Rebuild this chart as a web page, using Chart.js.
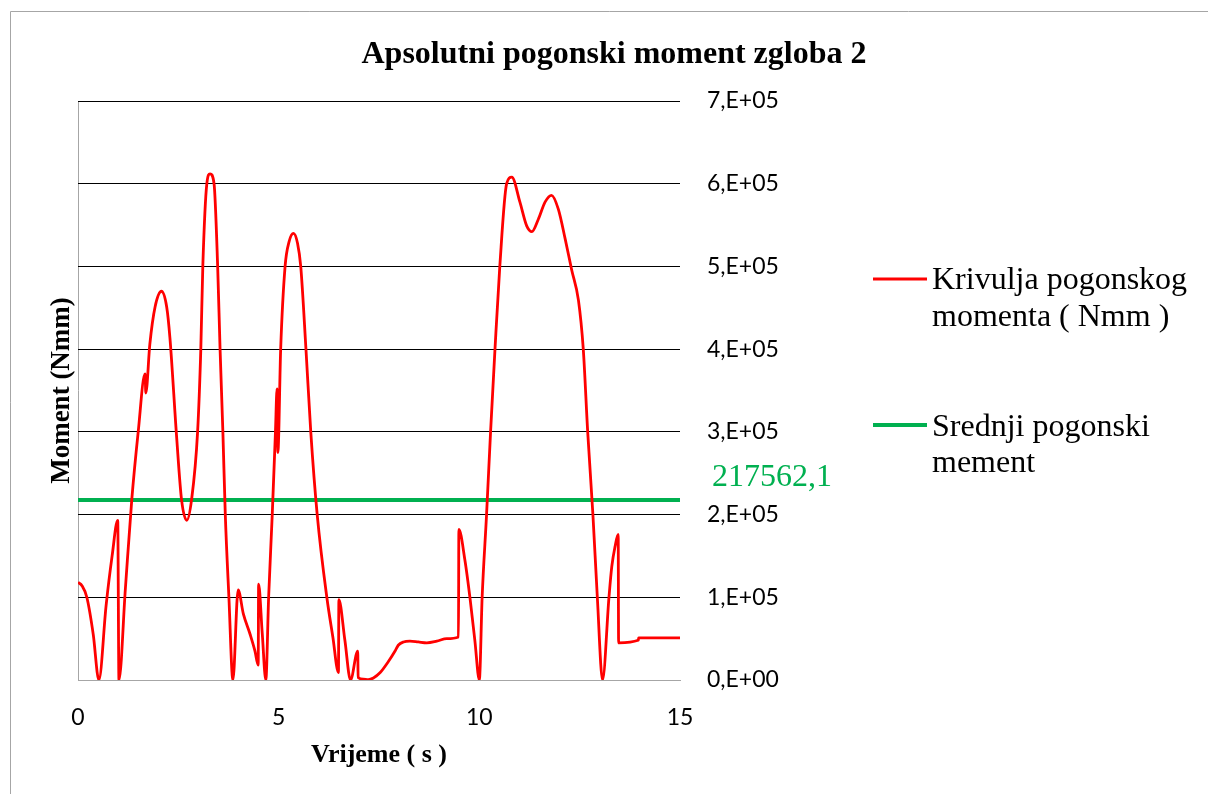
<!DOCTYPE html>
<html>
<head>
<meta charset="utf-8">
<script src="https://cdn.jsdelivr.net/npm/chart.js@4.4.1/dist/chart.umd.min.js"></script>
<style>
  html, body { margin: 0; padding: 0; background: #ffffff; }
  #okvir { width: 1208px; height: 794px; position: relative; }
</style>
</head>
<body>
<div id="okvir"><canvas id="grafikon" width="1208" height="794"></canvas></div>
<script>
// Naslovi i oznake
const naslov = 'Apsolutni pogonski moment zgloba 2';
const naslovOsiX = 'Vrijeme ( s )';
const naslovOsiY = 'Moment (Nmm)';
const legendaKrivulja = ['Krivulja pogonskog', 'momenta ( Nmm )'];
const legendaSrednji = ['Srednji pogonski', 'mement'];

// Vrijeme (s)
const vrijeme = [
  0, 0.1, 0.22, 0.38, 0.52, 0.7, 0.85, 0.99, 1.02, 1.18,
  1.34, 1.50, 1.67, 1.69, 1.79, 1.92, 2.08, 2.21, 2.29, 2.46,
  2.58, 2.71, 2.83, 2.98, 3.06, 3.11, 3.21, 3.29, 3.39, 3.48,
  3.54, 3.61, 3.67, 3.76, 3.86, 3.99, 4.12, 4.29, 4.41, 4.49,
  4.50, 4.59, 4.68, 4.75, 4.84, 4.92, 4.96, 4.98, 5.05, 5.16,
  5.26, 5.37, 5.47, 5.55, 5.68, 5.80, 5.96, 6.20, 6.35, 6.49,
  6.50, 6.65, 6.79, 6.97, 6.98, 7.11, 7.23, 7.36, 7.53, 7.73,
  7.90, 7.98, 8.11, 8.27, 8.48, 8.69, 8.94, 9.19, 9.48, 9.49,
  9.64, 9.77, 9.89, 10.0, 10.07, 10.18, 10.28, 10.39, 10.51, 10.68,
  10.81, 11.01, 11.18, 11.31, 11.47, 11.64, 11.80, 11.97, 12.14, 12.30,
  12.47, 12.59, 12.70, 12.83, 12.94, 13.07, 13.23, 13.30, 13.38, 13.46,
  13.47, 13.96, 13.97, 15
];

// Apsolutni pogonski moment (Nmm)
const moment = [
  118000, 114000, 100000, 55000, 0, 90000, 150000, 193000, 0, 110000,
  218000, 300000, 370000, 347000, 406000, 451000, 470000, 451000, 414000, 292000,
  218000, 193000, 218000, 300000, 400000, 500000, 600000, 612000, 600000, 500000,
  400000, 300000, 200000, 100000, 0, 109000, 80000, 55000, 35000, 18000,
  116000, 57000, 0, 100000, 200000, 300000, 352000, 275000, 400000, 500000,
  530000, 540000, 528000, 500000, 400000, 300000, 200000, 100000, 52000, 9000,
  97000, 48000, 0, 35000, 3000, 1000, 500, 2500, 9000, 22000,
  35000, 42000, 46000, 47000, 46000, 45000, 47000, 50000, 52000, 182000,
  145000, 98000, 47000, 0, 100000, 200000, 300000, 400000, 500000, 600000,
  608000, 578000, 549000, 542000, 557000, 578000, 586000, 569000, 533000, 496000,
  459000, 400000, 300000, 200000, 100000, 0, 100000, 137000, 161000, 176000,
  45000, 48000, 51000, 51000
];

// Srednji pogonski moment (Nmm)
const srednjiMoment = 217562.1;

// Oznake osi
const xOznake = [0, 5, 10, 15];
const yOznake = ['0,E+00', '1,E+05', '2,E+05', '3,E+05', '4,E+05', '5,E+05', '6,E+05', '7,E+05'];

const crvena = '#FF0000';
const zelena = '#00B050';
const siva = '#A6A6A6';
const serif = '"Liberation Serif", "Times New Roman", serif';

// Naslov, nazivi osi, legenda i oznaka srednje vrijednosti
const tekstovi = {
  id: 'tekstovi',
  afterDraw(chart) {
    const c = chart.ctx;
    const area = chart.chartArea;
    const y = chart.scales.y;
    c.save();

    // vanjski okvir
    c.strokeStyle = siva;
    c.lineWidth = 1;
    c.beginPath();
    c.moveTo(10.5, 794);
    c.lineTo(10.5, 11.5);
    c.lineTo(1208, 11.5);
    c.stroke();

    c.fillStyle = '#000';
    c.textAlign = 'center';
    c.textBaseline = 'alphabetic';
    c.font = 'bold 32px ' + serif;
    c.fillText(naslov, 614, 63);

    c.font = 'bold 26px ' + serif;
    c.textBaseline = 'middle';
    c.fillText(naslovOsiX, (area.left + area.right) / 2, 755);

    c.save();
    c.font = 'bold 27px ' + serif;
    c.translate(62, (area.top + area.bottom) / 2);
    c.rotate(-Math.PI / 2);
    c.fillText(naslovOsiY, 0, 0);
    c.restore();

    // legenda
    c.textAlign = 'left';
    c.font = '32px ' + serif;
    c.lineWidth = 3;
    c.strokeStyle = crvena;
    c.beginPath(); c.moveTo(873, 279); c.lineTo(927, 279); c.stroke();
    c.fillText(legendaKrivulja[0], 932, 281);
    c.fillText(legendaKrivulja[1], 932, 318);
    c.lineWidth = 4;
    c.strokeStyle = zelena;
    c.beginPath(); c.moveTo(873, 425); c.lineTo(927, 425); c.stroke();
    c.fillText(legendaSrednji[0], 932, 428);
    c.fillText(legendaSrednji[1], 932, 464);

    // oznaka srednje vrijednosti
    c.fillStyle = zelena;
    c.fillText(srednjiMoment.toFixed(1).replace('.', ','), area.right + 32, y.getPixelForValue(srednjiMoment) - 22);
    c.restore();
  }
};

new Chart(document.getElementById('grafikon'), {
  type: 'line',
  data: {
    datasets: [
      {
        label: legendaKrivulja.join(' '),
        data: vrijeme.map((t, i) => ({ x: t, y: moment[i] })),
        borderColor: crvena,
        borderWidth: 2.8,
        pointRadius: 0,
        fill: false,
        cubicInterpolationMode: 'monotone'
      },
      {
        label: legendaSrednji.join(' '),
        data: [{ x: xOznake[0], y: srednjiMoment }, { x: xOznake[xOznake.length - 1], y: srednjiMoment }],
        borderColor: zelena,
        borderWidth: 4,
        pointRadius: 0,
        fill: false
      }
    ]
  },
  options: {
    responsive: false,
    animation: false,
    devicePixelRatio: 1,
    layout: { padding: { left: 78, top: 101, right: 428, bottom: 64 } },
    plugins: {
      legend: { display: false },
      title: { display: false },
      tooltip: { enabled: false }
    },
    scales: {
      x: {
        type: 'linear',
        min: xOznake[0],
        max: xOznake[xOznake.length - 1],
        afterFit(s) { s.height = 50; },
        ticks: {
          stepSize: 5,
          maxRotation: 0,
          padding: 24,
          color: '#000',
          font: { family: 'Lato', size: 23 },
          callback: (v) => (xOznake.includes(v) ? String(v) : '')
        },
        grid: {
          drawTicks: false,
          color: (ctx) => (ctx.tick && ctx.tick.value === 0 ? siva : 'rgba(0,0,0,0)'),
          lineWidth: 1
        },
        border: { display: true, color: siva, width: 1 }
      },
      y: {
        type: 'linear',
        position: 'right',
        min: 0,
        max: 700000,
        afterFit(s) { s.width = 100; },
        ticks: {
          stepSize: 100000,
          padding: 27,
          color: '#000',
          font: { family: 'Lato', size: 23 },
          callback: (v) => yOznake[Math.round(v / 100000)]
        },
        grid: {
          drawTicks: false,
          color: (ctx) => (ctx.tick && ctx.tick.value === 0 ? siva : '#000'),
          lineWidth: 1
        },
        border: { display: false }
      }
    }
  },
  plugins: [tekstovi]
});
</script>
</body>
</html>
